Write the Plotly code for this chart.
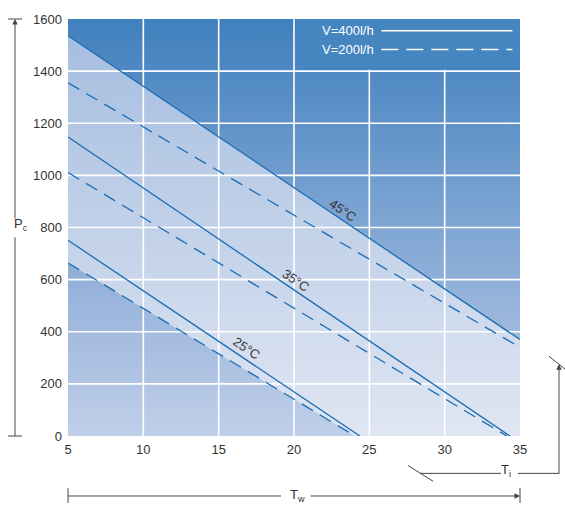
import plotly.graph_objects as go

# ---------------- data ----------------
temps = ["25°C", "35°C", "45°C"]
# V = 400 l/h (solid)
v400_x = [[5, 24.37], [5, 34.33], [5, 35]]
v400_y = [[751, 0], [1147, 0], [1536, 370]]
# V = 200 l/h (dashed)
v200_x = [[5, 24.05], [5, 34.13], [5, 35]]
v200_y = [[664, 0], [1011, 0], [1355, 340]]
# temperature label positions
label_x = [16.88, 20.13, 23.25]
label_y = [336, 596, 864]

x_ticks = [5, 10, 15, 20, 25, 30, 35]
y_ticks = [0, 200, 400, 600, 800, 1000, 1200, 1400, 1600]
x_range = [5, 35]
y_range = [0, 1600]

legend_names = ["V=400l/h", "V=200l/h"]

LINE = "#1a6db4"
TXT = "#333333"

fig = go.Figure()

# ---- background regions (gradient fills) ----
fig.add_trace(go.Scatter(
    x=[x_range[0], x_range[1], x_range[1], x_range[0], x_range[0]],
    y=[y_range[0], y_range[0], y_range[1], y_range[1], y_range[0]],
    mode="none", fill="toself",
    fillgradient=dict(type="vertical",
                      colorscale=[[0, "#e1e7f3"], [1, "#a3bcdf"]],
                      start=y_range[0], stop=y_range[1]),
    hoverinfo="skip", showlegend=False))

ux = v400_x[2]
uy = v400_y[2]
fig.add_trace(go.Scatter(
    x=[ux[0], ux[1], x_range[1], x_range[0], ux[0]],
    y=[uy[0], uy[1], y_range[1], y_range[1], uy[0]],
    mode="none", fill="toself",
    fillgradient=dict(type="vertical",
                      colorscale=[[0, "#a3bbdf"], [1, "#4080be"]],
                      start=uy[1], stop=y_range[1]),
    hoverinfo="skip", showlegend=False))

lx = v200_x[0]
ly = v200_y[0]
fig.add_trace(go.Scatter(
    x=[lx[0], lx[1], lx[0], lx[0]],
    y=[ly[0], ly[1], y_range[0], ly[0]],
    mode="none", fill="toself",
    fillgradient=dict(type="vertical",
                      colorscale=[[0, "#c2d1ea"], [1, "#91aed8"]],
                      start=y_range[0], stop=ly[0]),
    hoverinfo="skip", showlegend=False))

# ---- white grid drawn above fills (from tick lists) ----
for t in x_ticks[1:-1]:
    fig.add_trace(go.Scatter(x=[t, t], y=y_range, mode="lines",
                             line=dict(color="white", width=1.6),
                             hoverinfo="skip", showlegend=False))
for t in y_ticks[1:-1]:
    fig.add_trace(go.Scatter(x=x_range, y=[t, t], mode="lines",
                             line=dict(color="white", width=1.6),
                             hoverinfo="skip", showlegend=False))

# ---- curves ----
for i in range(3):
    fig.add_trace(go.Scatter(x=v400_x[i], y=v400_y[i], mode="lines",
                             line=dict(color=LINE, width=1.3),
                             name=legend_names[0], showlegend=False))
    fig.add_trace(go.Scatter(x=v200_x[i], y=v200_y[i], mode="lines",
                             line=dict(color=LINE, width=1.3, dash="13px,8px"),
                             name=legend_names[1], showlegend=False))

annotations = []
for i in range(3):
    annotations.append(dict(x=label_x[i], y=label_y[i], xref="x", yref="y",
                            text=temps[i], showarrow=False, textangle=34,
                            font=dict(size=13, color=TXT)))

# ---- legend (custom, text left of line sample) ----
shapes = []
shapes.append(dict(type="rect", xref="x", yref="y", x0=20.2, x1=35, y0=1405, y1=1600,
                   fillcolor="#4585c0", line=dict(width=0), layer="above"))
leg_y = [1555, 1483]
leg_dash = ["solid", "17px,8px"]
for name, yy, dd in zip(legend_names, leg_y, leg_dash):
    annotations.append(dict(x=25.45, y=yy, xref="x", yref="y", text=name,
                            showarrow=False, xanchor="right",
                            font=dict(size=13, color="white")))
    shapes.append(dict(type="line", xref="x", yref="y", x0=25.8, x1=34.5, y0=yy, y1=yy,
                       line=dict(color="white", width=1.6, dash=dd), layer="above"))

# ---- outer axis markers (pixel -> paper) ----
def X(px):
    return (px - 68) / 452.0

def Y(py):
    return (436 - py) / 424.0

AX = "#444444"

def seg(x0, y0, x1, y1, w=1.0):
    shapes.append(dict(type="line", xref="paper", yref="paper",
                       x0=X(x0), y0=Y(y0), x1=X(x1), y1=Y(y1),
                       line=dict(color=AX, width=w)))

def arrow(xh, yh, xt, yt):
    annotations.append(dict(x=X(xh), y=Y(yh), xref="paper", yref="paper",
                            ax=xt - xh, ay=yt - yh, axref="pixel", ayref="pixel",
                            text="", showarrow=True, arrowhead=2, arrowsize=1.1,
                            arrowwidth=1, arrowcolor=AX, standoff=0))

# Pc (left)
seg(8, 12, 22, 12)
seg(8, 436, 22, 436)
seg(15, 436, 15, 234)
arrow(15, 12, 15, 213)
annotations.append(dict(x=X(12), y=Y(221), xref="paper", yref="paper",
                        text="P<sub>c</sub>", showarrow=False,
                        font=dict(size=13, color=TXT)))

# Tw (bottom)
seg(68, 489, 68, 504)
seg(520, 489, 520, 504)
seg(68, 497, 281, 497)
arrow(520, 497, 309, 497)
annotations.append(dict(x=X(297), y=Y(507), xref="paper", yref="paper",
                        text="T<sub>w</sub>", showarrow=False,
                        font=dict(size=13, color=TXT)))

# Ti (bottom right)
seg(408, 466, 433, 482)
seg(420, 474, 501, 474)
seg(518, 474, 559, 474)
arrow(559, 363, 559, 474)
seg(549, 355, 565, 368)
annotations.append(dict(x=X(513), y=Y(482), xref="paper", yref="paper",
                        text="T<sub>i</sub>", showarrow=False,
                        font=dict(size=13, color=TXT)))

fig.update_layout(
    width=565, height=506,
    margin=dict(l=68, r=45, t=12, b=70),
    paper_bgcolor="white", plot_bgcolor="white",
    font=dict(family="Liberation Sans, Arial, sans-serif", size=13, color=TXT),
    showlegend=False,
    shapes=shapes, annotations=annotations,
    xaxis=dict(range=x_range, tickvals=x_ticks, showgrid=False, zeroline=False,
               showline=False, ticks="", ticklen=0, ticklabelstandoff=4,
               tickfont=dict(size=13, color=TXT)),
    yaxis=dict(range=y_range, tickvals=y_ticks, showgrid=False, zeroline=False,
               showline=False, ticks="", ticklen=0, ticklabelstandoff=5,
               tickfont=dict(size=13, color=TXT)),
)

fig.write_html("out.html", config={"displayModeBar": False},
               post_script="document.body.style.margin='0px';document.body.style.padding='0px';")
